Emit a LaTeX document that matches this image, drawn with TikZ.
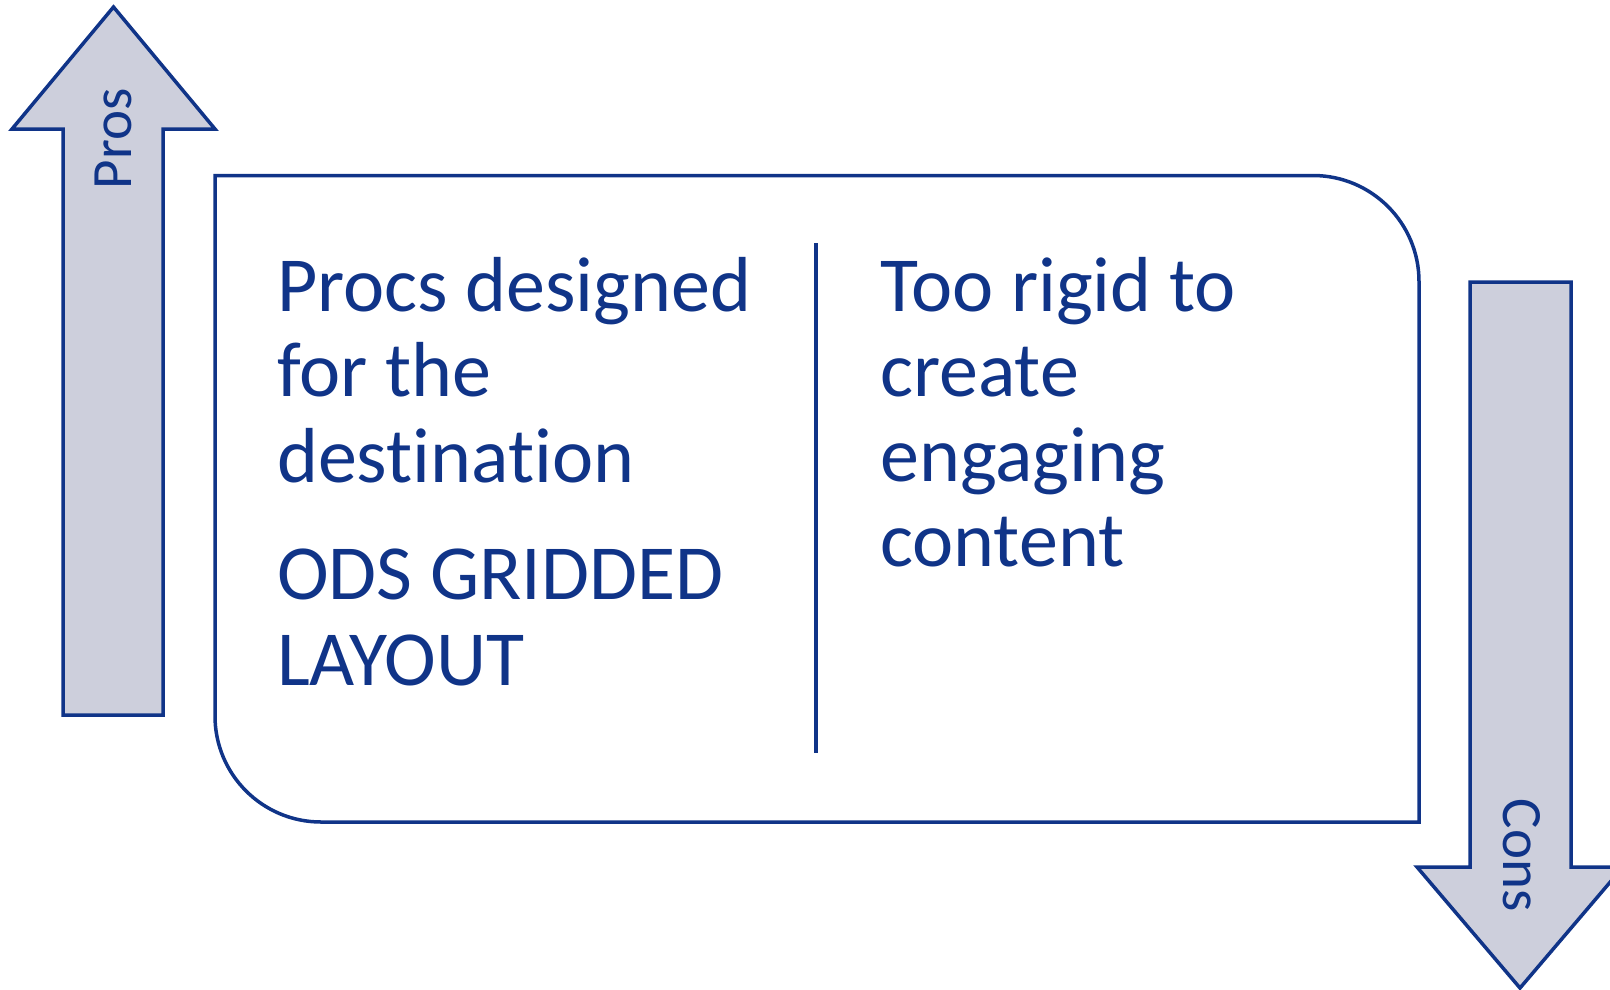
\documentclass[tikz,border=0pt]{standalone}
\usepackage{fontspec}
\setmainfont[Ligatures={NoCommon}]{Carlito}
\definecolor{navy}{RGB}{16,52,136}
\definecolor{arrowfill}{RGB}{205,207,220}
\tikzset{
  outline/.style={draw=navy, line width=3.5pt, line join=miter},
  arrowbody/.style={outline, fill=arrowfill},
  bigtext/.style={text=navy, inner sep=0pt, anchor=base west, font=\fontsize{78}{86}\selectfont},
  arrowtext/.style={text=navy, inner sep=0pt, anchor=base, font=\fontsize{57}{64}\selectfont},
}
\begin{document}
\begin{tikzpicture}[x=1pt, y=-1pt]
\useasboundingbox (0,0) rectangle (1610,989);
% up arrow (Pros)
\draw[arrowbody] (113.5,7) -- (215,129) -- (163,129) -- (163,715) -- (63,715) -- (63,129) -- (12,129) -- cycle;
\node[arrowtext, rotate=90] (pros) at (131,139) {Pros};
% down arrow (Cons)
\draw[arrowbody] (1470,282) -- (1571,282) -- (1571,867) -- (1623,867) -- (1520,988) -- (1417,867) -- (1470,867) -- cycle;
\node[arrowtext, rotate=-90] (cons) at (1503,855) {Cons};
% main box with two rounded corners
\draw[outline] (215,175.5) -- (1313,175.5) arc[start angle=-90, end angle=0, radius=106] -- (1419,822) -- (321,822) arc[start angle=90, end angle=180, radius=106] -- cycle;
% divider
\coordinate (dtop) at (816,243);
\coordinate (dbot) at (816,753);
\draw[draw=navy, line width=3.5pt] (dtop) -- (dbot);
% left text
\node[bigtext] (l1) at (277,311) {Procs designed};
\node[bigtext] (l2) at (277,396.5) {for the};
\node[bigtext] (l3) at (277,482) {destination};
\node[bigtext] (l4) at (277,599.5) {ODS GRIDDED};
\node[bigtext] (l5) at (277,685) {LAYOUT};
% right text
\node[bigtext] (r1) at (880,311.5) {Too rigid to};
\node[bigtext] (r2) at (880,396.5) {create};
\node[bigtext] (r3) at (880,481) {engaging};
\node[bigtext] (r4) at (880,566.5) {content};
\end{tikzpicture}
\end{document}
